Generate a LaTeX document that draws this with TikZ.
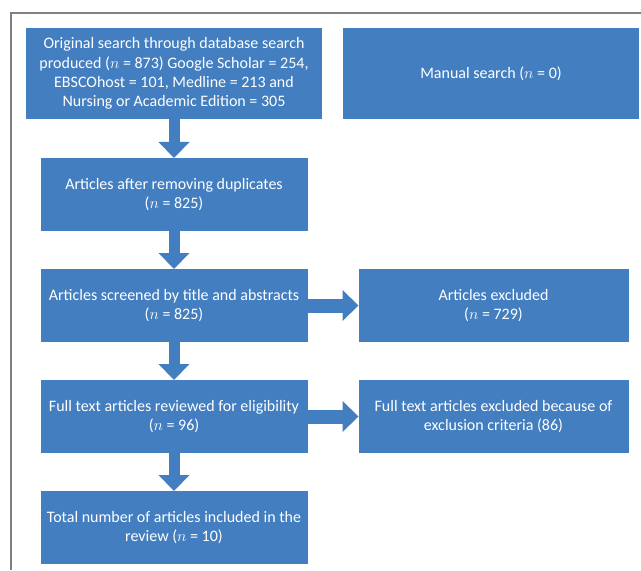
\documentclass[tikz,border=0pt]{standalone}
\usepackage{fontspec}
\setmainfont{Carlito}
\usetikzlibrary{arrows.meta,positioning}
\definecolor{boxblue}{RGB}{67,126,192}
\definecolor{framegray}{RGB}{128,128,128}

\begin{document}
\begin{tikzpicture}[auto,node distance=28.5pt,
  box/.style={fill=boxblue,text=white,align=center,inner sep=0pt,outer sep=0pt,
    minimum width=200.25pt,minimum height=54.75pt,font=\fontsize{12pt}{14.5pt}\selectfont},
  widebox/.style={box,minimum width=222pt,minimum height=68.25pt},
  sidebox/.style={box,minimum width=202.5pt},
  down/.style={boxblue,line width=8.25pt,-{Triangle[width=23.25pt,length=12pt,line width=0pt]}},
  across/.style={boxblue,line width=10.5pt,-{Triangle[width=23.25pt,length=12pt,line width=0pt]}}]
\useasboundingbox (0,0) rectangle (480.75pt,-427.5pt);
\draw[framegray,line width=1.5pt] (480.75pt,-9.75pt) -- (8.25pt,-9.75pt) -- (8.25pt,-427.5pt);

\node[widebox] (orig) at (130.5pt,-55.125pt) {Original search through database search\\ produced ($n$ = 873) Google Scholar = 254,\\ EBSCOhost = 101, Medline = 213 and\\ Nursing or Academic Edition = 305};
\node[widebox] (manual) [right=15.75pt of orig] {Manual search ($n$ = 0)};
\node[box] (dupl) [below=29.25pt of orig] {Articles after removing duplicates\\ ($n$ = 825)};
\node[box] (screen) [below=of dupl] {Articles screened by title and abstracts\\ ($n$ = 825)};
\node[sidebox] (excl) [right=38.25pt of screen] {Articles excluded\\ ($n$ = 729)};
\node[box] (full) [below=of screen] {Full text articles reviewed for eligibility\\ ($n$ = 96)};
\node[sidebox] (fullexcl) [right=38.25pt of full] {Full text articles excluded because of\\ exclusion criteria (86)};
\node[box] (total) [below=of full] {Total number of articles included in the\\ review ($n$ = 10)};

\path[down]	(orig)	edge	(dupl)
		(dupl)	edge	(screen)
		(screen)	edge	(full)
		(full)	edge	(total);
\path[across]	(screen)	edge	(excl)
		(full)	edge	(fullexcl);
\end{tikzpicture}
\end{document}
